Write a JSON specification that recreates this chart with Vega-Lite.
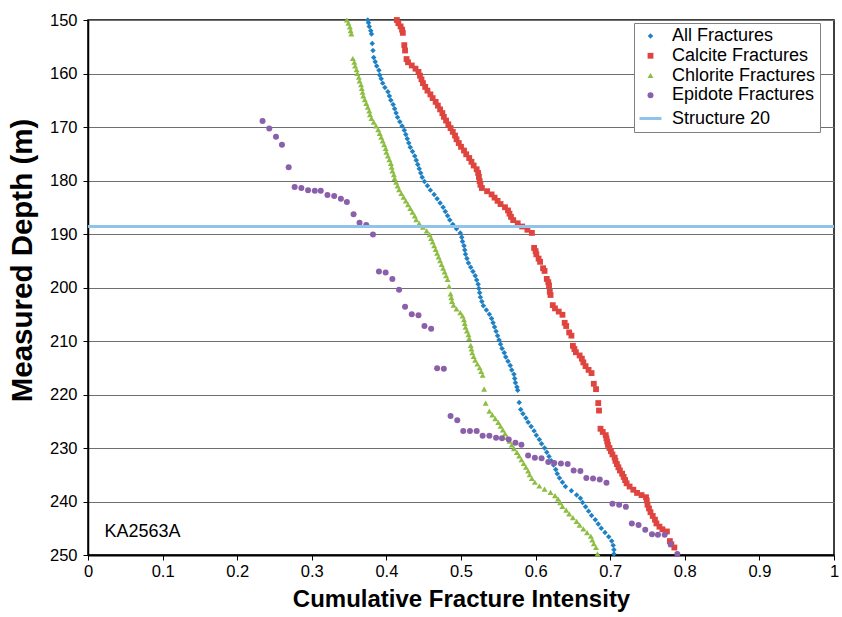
{
  "$schema": "https://vega.github.io/schema/vega-lite/v6.json",
  "width": 746,
  "height": 535,
  "autosize": {"type": "none"},
  "padding": {"left": 88, "top": 20, "right": 8, "bottom": 62},
  "background": "white",
  "config": {
    "font": "Liberation Sans",
    "view": {"stroke": "black", "strokeWidth": 1.5},
    "axis": {"domainColor": "black", "tickColor": "black", "labelColor": "black", "titleColor": "black", "labelFont": "Liberation Sans", "titleFont": "Liberation Sans"},
    "legend": {"orient": "none", "legendX": 546, "legendY": 3, "fillColor": "white", "strokeColor": "#808080", "strokeWidth": 1, "padding": 4, "labelFont": "Liberation Sans", "labelFontSize": 18, "labelColor": "black", "labelOffset": 9, "rowPadding": 1.75, "symbolStrokeWidth": 3}
  },
  "datasets": {
    "fractures": [
      {"s":"A","x":0.375,"d":150.0},{"s":"A","x":0.376,"d":150.5},{"s":"A","x":0.377,"d":151.2},{"s":"A","x":0.379,"d":152.0},{"s":"A","x":0.380,"d":152.6},{"s":"A","x":0.381,"d":154.4},{"s":"A","x":0.382,"d":155.7},{"s":"A","x":0.383,"d":157.0},{"s":"A","x":0.385,"d":157.8},{"s":"A","x":0.387,"d":158.6},{"s":"A","x":0.390,"d":159.4},{"s":"A","x":0.391,"d":160.3},{"s":"A","x":0.393,"d":161.0},{"s":"A","x":0.395,"d":161.8},{"s":"A","x":0.398,"d":162.6},{"s":"A","x":0.402,"d":163.4},{"s":"A","x":0.404,"d":164.2},{"s":"A","x":0.406,"d":165.0},{"s":"A","x":0.409,"d":165.8},{"s":"A","x":0.411,"d":166.6},{"s":"A","x":0.413,"d":167.4},{"s":"A","x":0.415,"d":168.2},{"s":"A","x":0.418,"d":169.0},{"s":"A","x":0.421,"d":169.8},{"s":"A","x":0.424,"d":170.6},{"s":"A","x":0.426,"d":171.4},{"s":"A","x":0.428,"d":172.2},{"s":"A","x":0.430,"d":173.0},{"s":"A","x":0.432,"d":173.8},{"s":"A","x":0.435,"d":174.6},{"s":"A","x":0.438,"d":175.4},{"s":"A","x":0.440,"d":176.2},{"s":"A","x":0.442,"d":177.0},{"s":"A","x":0.444,"d":177.8},{"s":"A","x":0.446,"d":178.6},{"s":"A","x":0.448,"d":179.4},{"s":"A","x":0.451,"d":180.2},{"s":"A","x":0.455,"d":181.0},{"s":"A","x":0.459,"d":181.8},{"s":"A","x":0.464,"d":182.6},{"s":"A","x":0.468,"d":183.4},{"s":"A","x":0.472,"d":184.2},{"s":"A","x":0.476,"d":185.0},{"s":"A","x":0.479,"d":185.8},{"s":"A","x":0.482,"d":186.6},{"s":"A","x":0.485,"d":187.4},{"s":"A","x":0.489,"d":188.2},{"s":"A","x":0.494,"d":189.0},{"s":"A","x":0.499,"d":189.8},{"s":"A","x":0.501,"d":190.6},{"s":"A","x":0.502,"d":191.4},{"s":"A","x":0.504,"d":192.2},{"s":"A","x":0.505,"d":193.0},{"s":"A","x":0.506,"d":193.8},{"s":"A","x":0.508,"d":194.6},{"s":"A","x":0.510,"d":195.4},{"s":"A","x":0.513,"d":196.2},{"s":"A","x":0.516,"d":197.0},{"s":"A","x":0.519,"d":197.8},{"s":"A","x":0.521,"d":198.6},{"s":"A","x":0.523,"d":199.4},{"s":"A","x":0.524,"d":200.2},{"s":"A","x":0.525,"d":201.0},{"s":"A","x":0.526,"d":201.8},{"s":"A","x":0.528,"d":202.6},{"s":"A","x":0.530,"d":203.4},{"s":"A","x":0.534,"d":204.2},{"s":"A","x":0.538,"d":205.0},{"s":"A","x":0.541,"d":205.8},{"s":"A","x":0.543,"d":206.6},{"s":"A","x":0.545,"d":207.4},{"s":"A","x":0.547,"d":208.2},{"s":"A","x":0.549,"d":209.0},{"s":"A","x":0.551,"d":209.8},{"s":"A","x":0.553,"d":210.6},{"s":"A","x":0.555,"d":211.4},{"s":"A","x":0.558,"d":212.2},{"s":"A","x":0.560,"d":213.0},{"s":"A","x":0.563,"d":213.8},{"s":"A","x":0.566,"d":214.6},{"s":"A","x":0.568,"d":215.4},{"s":"A","x":0.571,"d":216.2},{"s":"A","x":0.572,"d":217.0},{"s":"A","x":0.573,"d":217.8},{"s":"A","x":0.575,"d":218.6},{"s":"A","x":0.576,"d":219.2},{"s":"A","x":0.578,"d":221.5},{"s":"A","x":0.580,"d":222.8},{"s":"A","x":0.583,"d":223.6},{"s":"A","x":0.587,"d":224.4},{"s":"A","x":0.590,"d":225.2},{"s":"A","x":0.594,"d":226.0},{"s":"A","x":0.598,"d":226.8},{"s":"A","x":0.601,"d":227.6},{"s":"A","x":0.605,"d":228.4},{"s":"A","x":0.608,"d":229.2},{"s":"A","x":0.612,"d":230.0},{"s":"A","x":0.615,"d":230.8},{"s":"A","x":0.618,"d":231.6},{"s":"A","x":0.621,"d":232.4},{"s":"A","x":0.624,"d":233.2},{"s":"A","x":0.627,"d":234.0},{"s":"A","x":0.629,"d":234.8},{"s":"A","x":0.632,"d":235.6},{"s":"A","x":0.636,"d":236.4},{"s":"A","x":0.640,"d":237.2},{"s":"A","x":0.648,"d":238.0},{"s":"A","x":0.655,"d":238.8},{"s":"A","x":0.660,"d":239.4},{"s":"A","x":0.663,"d":240.2},{"s":"A","x":0.667,"d":241.0},{"s":"A","x":0.671,"d":241.8},{"s":"A","x":0.675,"d":242.6},{"s":"A","x":0.680,"d":243.4},{"s":"A","x":0.684,"d":244.2},{"s":"A","x":0.688,"d":245.0},{"s":"A","x":0.693,"d":245.8},{"s":"A","x":0.698,"d":246.6},{"s":"A","x":0.702,"d":247.4},{"s":"A","x":0.704,"d":248.2},{"s":"A","x":0.705,"d":249.0},{"s":"A","x":0.705,"d":249.8},
      {"s":"C","x":0.414,"d":150.0},{"s":"C","x":0.416,"d":150.6},{"s":"C","x":0.419,"d":151.2},{"s":"C","x":0.421,"d":151.8},{"s":"C","x":0.422,"d":152.4},{"s":"C","x":0.424,"d":154.7},{"s":"C","x":0.425,"d":155.7},{"s":"C","x":0.427,"d":157.3},{"s":"C","x":0.429,"d":157.9},{"s":"C","x":0.434,"d":158.5},{"s":"C","x":0.439,"d":159.1},{"s":"C","x":0.443,"d":159.7},{"s":"C","x":0.445,"d":160.4},{"s":"C","x":0.447,"d":161.1},{"s":"C","x":0.449,"d":161.8},{"s":"C","x":0.452,"d":162.5},{"s":"C","x":0.455,"d":163.2},{"s":"C","x":0.459,"d":163.9},{"s":"C","x":0.462,"d":164.6},{"s":"C","x":0.466,"d":165.3},{"s":"C","x":0.469,"d":166.0},{"s":"C","x":0.472,"d":166.7},{"s":"C","x":0.475,"d":167.4},{"s":"C","x":0.477,"d":168.1},{"s":"C","x":0.480,"d":168.8},{"s":"C","x":0.483,"d":169.5},{"s":"C","x":0.486,"d":170.2},{"s":"C","x":0.489,"d":170.9},{"s":"C","x":0.492,"d":171.6},{"s":"C","x":0.494,"d":172.3},{"s":"C","x":0.497,"d":173.0},{"s":"C","x":0.500,"d":173.7},{"s":"C","x":0.504,"d":174.4},{"s":"C","x":0.507,"d":175.1},{"s":"C","x":0.511,"d":175.8},{"s":"C","x":0.514,"d":176.5},{"s":"C","x":0.517,"d":177.2},{"s":"C","x":0.521,"d":177.9},{"s":"C","x":0.523,"d":178.6},{"s":"C","x":0.524,"d":179.3},{"s":"C","x":0.525,"d":180.1},{"s":"C","x":0.526,"d":180.8},{"s":"C","x":0.528,"d":181.4},{"s":"C","x":0.535,"d":182.0},{"s":"C","x":0.541,"d":182.6},{"s":"C","x":0.545,"d":183.2},{"s":"C","x":0.549,"d":183.8},{"s":"C","x":0.553,"d":184.4},{"s":"C","x":0.559,"d":185.0},{"s":"C","x":0.563,"d":185.6},{"s":"C","x":0.565,"d":186.2},{"s":"C","x":0.567,"d":186.8},{"s":"C","x":0.570,"d":187.4},{"s":"C","x":0.576,"d":188.0},{"s":"C","x":0.582,"d":188.6},{"s":"C","x":0.589,"d":189.2},{"s":"C","x":0.595,"d":189.8},{"s":"C","x":0.598,"d":192.6},{"s":"C","x":0.600,"d":193.2},{"s":"C","x":0.601,"d":193.8},{"s":"C","x":0.604,"d":194.6},{"s":"C","x":0.606,"d":195.2},{"s":"C","x":0.610,"d":196.4},{"s":"C","x":0.612,"d":196.9},{"s":"C","x":0.615,"d":198.4},{"s":"C","x":0.617,"d":199.0},{"s":"C","x":0.618,"d":199.6},{"s":"C","x":0.619,"d":200.8},{"s":"C","x":0.620,"d":201.4},{"s":"C","x":0.623,"d":203.3},{"s":"C","x":0.626,"d":203.9},{"s":"C","x":0.631,"d":204.5},{"s":"C","x":0.636,"d":205.1},{"s":"C","x":0.639,"d":206.6},{"s":"C","x":0.641,"d":207.2},{"s":"C","x":0.645,"d":208.4},{"s":"C","x":0.648,"d":209.0},{"s":"C","x":0.650,"d":210.9},{"s":"C","x":0.652,"d":211.5},{"s":"C","x":0.654,"d":212.1},{"s":"C","x":0.659,"d":212.7},{"s":"C","x":0.662,"d":213.3},{"s":"C","x":0.664,"d":214.0},{"s":"C","x":0.667,"d":214.7},{"s":"C","x":0.671,"d":215.4},{"s":"C","x":0.675,"d":216.0},{"s":"C","x":0.678,"d":218.0},{"s":"C","x":0.681,"d":219.0},{"s":"C","x":0.684,"d":221.6},{"s":"C","x":0.685,"d":223.0},{"s":"C","x":0.687,"d":226.4},{"s":"C","x":0.690,"d":227.0},{"s":"C","x":0.694,"d":227.6},{"s":"C","x":0.695,"d":228.2},{"s":"C","x":0.696,"d":228.8},{"s":"C","x":0.697,"d":229.4},{"s":"C","x":0.699,"d":230.0},{"s":"C","x":0.701,"d":230.6},{"s":"C","x":0.703,"d":231.2},{"s":"C","x":0.706,"d":231.8},{"s":"C","x":0.707,"d":232.4},{"s":"C","x":0.709,"d":233.0},{"s":"C","x":0.711,"d":233.6},{"s":"C","x":0.713,"d":234.2},{"s":"C","x":0.716,"d":234.8},{"s":"C","x":0.718,"d":235.4},{"s":"C","x":0.720,"d":236.0},{"s":"C","x":0.722,"d":236.6},{"s":"C","x":0.726,"d":237.2},{"s":"C","x":0.731,"d":237.8},{"s":"C","x":0.736,"d":238.4},{"s":"C","x":0.742,"d":238.8},{"s":"C","x":0.748,"d":239.2},{"s":"C","x":0.749,"d":239.8},{"s":"C","x":0.750,"d":240.6},{"s":"C","x":0.752,"d":241.3},{"s":"C","x":0.754,"d":242.0},{"s":"C","x":0.757,"d":242.7},{"s":"C","x":0.760,"d":243.4},{"s":"C","x":0.762,"d":244.1},{"s":"C","x":0.766,"d":244.7},{"s":"C","x":0.770,"d":245.2},{"s":"C","x":0.776,"d":245.6},{"s":"C","x":0.780,"d":247.4},{"s":"C","x":0.782,"d":248.0},{"s":"C","x":0.786,"d":248.6},
      {"s":"H","x":0.347,"d":150.0},{"s":"H","x":0.349,"d":150.6},{"s":"H","x":0.351,"d":151.3},{"s":"H","x":0.352,"d":152.0},{"s":"H","x":0.353,"d":152.6},{"s":"H","x":0.355,"d":157.2},{"s":"H","x":0.357,"d":157.9},{"s":"H","x":0.358,"d":158.6},{"s":"H","x":0.360,"d":159.3},{"s":"H","x":0.361,"d":160.0},{"s":"H","x":0.363,"d":160.7},{"s":"H","x":0.364,"d":161.4},{"s":"H","x":0.366,"d":162.1},{"s":"H","x":0.367,"d":162.8},{"s":"H","x":0.368,"d":163.5},{"s":"H","x":0.369,"d":164.2},{"s":"H","x":0.371,"d":164.9},{"s":"H","x":0.373,"d":165.6},{"s":"H","x":0.375,"d":166.3},{"s":"H","x":0.377,"d":167.0},{"s":"H","x":0.378,"d":167.7},{"s":"H","x":0.380,"d":168.4},{"s":"H","x":0.383,"d":169.1},{"s":"H","x":0.386,"d":169.8},{"s":"H","x":0.389,"d":170.5},{"s":"H","x":0.391,"d":171.2},{"s":"H","x":0.393,"d":171.9},{"s":"H","x":0.395,"d":172.6},{"s":"H","x":0.397,"d":173.3},{"s":"H","x":0.399,"d":174.0},{"s":"H","x":0.400,"d":174.7},{"s":"H","x":0.402,"d":175.4},{"s":"H","x":0.404,"d":176.1},{"s":"H","x":0.406,"d":176.8},{"s":"H","x":0.407,"d":177.5},{"s":"H","x":0.408,"d":178.2},{"s":"H","x":0.410,"d":178.9},{"s":"H","x":0.411,"d":179.6},{"s":"H","x":0.413,"d":180.3},{"s":"H","x":0.415,"d":181.0},{"s":"H","x":0.417,"d":181.7},{"s":"H","x":0.420,"d":182.4},{"s":"H","x":0.423,"d":183.1},{"s":"H","x":0.426,"d":183.8},{"s":"H","x":0.429,"d":184.5},{"s":"H","x":0.432,"d":185.2},{"s":"H","x":0.435,"d":185.9},{"s":"H","x":0.438,"d":186.6},{"s":"H","x":0.440,"d":187.3},{"s":"H","x":0.444,"d":188.0},{"s":"H","x":0.449,"d":188.7},{"s":"H","x":0.454,"d":189.4},{"s":"H","x":0.458,"d":190.1},{"s":"H","x":0.460,"d":190.8},{"s":"H","x":0.462,"d":191.5},{"s":"H","x":0.464,"d":192.2},{"s":"H","x":0.466,"d":192.9},{"s":"H","x":0.468,"d":193.6},{"s":"H","x":0.470,"d":194.3},{"s":"H","x":0.472,"d":195.0},{"s":"H","x":0.474,"d":195.7},{"s":"H","x":0.476,"d":196.4},{"s":"H","x":0.478,"d":197.1},{"s":"H","x":0.480,"d":197.8},{"s":"H","x":0.482,"d":198.5},{"s":"H","x":0.484,"d":199.8},{"s":"H","x":0.486,"d":201.2},{"s":"H","x":0.487,"d":201.9},{"s":"H","x":0.488,"d":202.6},{"s":"H","x":0.490,"d":203.3},{"s":"H","x":0.494,"d":204.0},{"s":"H","x":0.499,"d":204.7},{"s":"H","x":0.502,"d":205.3},{"s":"H","x":0.504,"d":206.0},{"s":"H","x":0.505,"d":206.7},{"s":"H","x":0.506,"d":207.4},{"s":"H","x":0.508,"d":208.1},{"s":"H","x":0.510,"d":208.8},{"s":"H","x":0.511,"d":209.5},{"s":"H","x":0.513,"d":210.8},{"s":"H","x":0.514,"d":211.5},{"s":"H","x":0.515,"d":212.2},{"s":"H","x":0.517,"d":212.9},{"s":"H","x":0.519,"d":213.6},{"s":"H","x":0.522,"d":214.3},{"s":"H","x":0.525,"d":215.0},{"s":"H","x":0.527,"d":215.7},{"s":"H","x":0.529,"d":216.4},{"s":"H","x":0.531,"d":219.0},{"s":"H","x":0.533,"d":221.6},{"s":"H","x":0.538,"d":223.1},{"s":"H","x":0.542,"d":223.8},{"s":"H","x":0.546,"d":224.5},{"s":"H","x":0.550,"d":225.2},{"s":"H","x":0.553,"d":225.9},{"s":"H","x":0.556,"d":226.6},{"s":"H","x":0.559,"d":227.3},{"s":"H","x":0.562,"d":228.0},{"s":"H","x":0.565,"d":228.7},{"s":"H","x":0.568,"d":229.4},{"s":"H","x":0.571,"d":230.1},{"s":"H","x":0.575,"d":230.8},{"s":"H","x":0.578,"d":231.5},{"s":"H","x":0.581,"d":232.2},{"s":"H","x":0.584,"d":232.9},{"s":"H","x":0.587,"d":233.6},{"s":"H","x":0.590,"d":234.3},{"s":"H","x":0.592,"d":235.0},{"s":"H","x":0.595,"d":235.7},{"s":"H","x":0.599,"d":236.4},{"s":"H","x":0.605,"d":237.1},{"s":"H","x":0.612,"d":237.7},{"s":"H","x":0.620,"d":238.3},{"s":"H","x":0.626,"d":238.9},{"s":"H","x":0.630,"d":239.5},{"s":"H","x":0.633,"d":240.2},{"s":"H","x":0.636,"d":240.9},{"s":"H","x":0.641,"d":241.6},{"s":"H","x":0.645,"d":242.3},{"s":"H","x":0.650,"d":243.0},{"s":"H","x":0.655,"d":243.7},{"s":"H","x":0.659,"d":244.4},{"s":"H","x":0.664,"d":245.1},{"s":"H","x":0.669,"d":245.8},{"s":"H","x":0.674,"d":246.5},{"s":"H","x":0.676,"d":247.2},{"s":"H","x":0.678,"d":247.9},{"s":"H","x":0.681,"d":248.6},{"s":"H","x":0.683,"d":249.8},
      {"s":"E","x":0.234,"d":168.9},{"s":"E","x":0.243,"d":170.3},{"s":"E","x":0.252,"d":171.8},{"s":"E","x":0.260,"d":173.3},{"s":"E","x":0.269,"d":177.5},{"s":"E","x":0.277,"d":181.2},{"s":"E","x":0.286,"d":181.4},{"s":"E","x":0.295,"d":181.8},{"s":"E","x":0.304,"d":181.9},{"s":"E","x":0.312,"d":181.9},{"s":"E","x":0.321,"d":182.7},{"s":"E","x":0.330,"d":182.9},{"s":"E","x":0.339,"d":183.4},{"s":"E","x":0.347,"d":184.0},{"s":"E","x":0.356,"d":186.3},{"s":"E","x":0.364,"d":187.9},{"s":"E","x":0.373,"d":188.3},{"s":"E","x":0.382,"d":190.1},{"s":"E","x":0.390,"d":197.0},{"s":"E","x":0.399,"d":197.2},{"s":"E","x":0.408,"d":198.4},{"s":"E","x":0.417,"d":200.4},{"s":"E","x":0.425,"d":203.6},{"s":"E","x":0.434,"d":205.0},{"s":"E","x":0.443,"d":205.2},{"s":"E","x":0.451,"d":207.2},{"s":"E","x":0.460,"d":207.7},{"s":"E","x":0.468,"d":215.1},{"s":"E","x":0.477,"d":215.2},{"s":"E","x":0.486,"d":224.0},{"s":"E","x":0.495,"d":224.8},{"s":"E","x":0.503,"d":226.8},{"s":"E","x":0.512,"d":226.8},{"s":"E","x":0.521,"d":226.8},{"s":"E","x":0.529,"d":227.7},{"s":"E","x":0.538,"d":227.7},{"s":"E","x":0.547,"d":228.1},{"s":"E","x":0.555,"d":228.2},{"s":"E","x":0.564,"d":228.4},{"s":"E","x":0.573,"d":229.0},{"s":"E","x":0.581,"d":229.4},{"s":"E","x":0.590,"d":231.4},{"s":"E","x":0.599,"d":231.8},{"s":"E","x":0.608,"d":231.9},{"s":"E","x":0.617,"d":232.6},{"s":"E","x":0.625,"d":232.8},{"s":"E","x":0.634,"d":232.9},{"s":"E","x":0.643,"d":233.0},{"s":"E","x":0.651,"d":234.2},{"s":"E","x":0.660,"d":234.3},{"s":"E","x":0.668,"d":235.6},{"s":"E","x":0.677,"d":235.7},{"s":"E","x":0.686,"d":235.9},{"s":"E","x":0.695,"d":236.5},{"s":"E","x":0.703,"d":240.4},{"s":"E","x":0.712,"d":240.6},{"s":"E","x":0.721,"d":241.0},{"s":"E","x":0.729,"d":244.1},{"s":"E","x":0.738,"d":244.4},{"s":"E","x":0.747,"d":245.3},{"s":"E","x":0.756,"d":246.1},{"s":"E","x":0.764,"d":246.2},{"s":"E","x":0.773,"d":246.2},{"s":"E","x":0.781,"d":248.0},{"s":"E","x":0.790,"d":249.8}
    ],
    "structure": [{"d": 188.6}],
    "notes": [{"x": 0.022, "d": 246.7, "t": "KA2563A"}]
  },
  "layer": [
    {
      "data": {"name": "fractures"},
      "mark": {"type": "point", "filled": true, "opacity": 1},
      "encoding": {
        "x": {"field": "x", "type": "quantitative", "title": "Cumulative Fracture Intensity",
          "scale": {"domain": [0, 1], "nice": false, "zero": false},
          "axis": {"values": [0, 0.1, 0.2, 0.3, 0.4, 0.5, 0.6, 0.7, 0.8, 0.9, 1], "format": "~g", "grid": false, "tickSize": 5, "labelFontSize": 16.5, "labelPadding": 3, "labelFlush": false, "titleFontSize": 24, "titleFontWeight": "bold", "titlePadding": 8, "domainWidth": 2}},
        "y": {"field": "d", "type": "quantitative", "title": "Measured Depth (m)",
          "scale": {"domain": [150, 250], "reverse": true, "nice": false, "zero": false},
          "axis": {"values": [150, 160, 170, 180, 190, 200, 210, 220, 230, 240, 250], "grid": true, "gridColor": "#6e6e6e", "gridWidth": 1, "tickSize": 5, "labelFontSize": 16.5, "labelPadding": 6, "titleFontSize": 29.5, "titleFontWeight": "bold", "titlePadding": 12, "titleY": 240, "domainWidth": 1.5}},
        "color": {"field": "s", "type": "nominal",
          "scale": {"domain": ["A", "C", "H", "E", "S"], "range": ["#1f80c4", "#e0443e", "#8dbe43", "#8a60aa", "#8fc3ea"]},
          "legend": {"title": null, "labelExpr": "datum.label=='A'?'All Fractures':datum.label=='C'?'Calcite Fractures':datum.label=='H'?'Chlorite Fractures':datum.label=='E'?'Epidote Fractures':'Structure 20'"}},
        "shape": {"field": "s", "type": "nominal",
          "scale": {"domain": ["A", "C", "H", "E", "S"], "range": ["diamond", "square", "triangle-up", "circle", "stroke"]},
          "legend": {"title": null, "labelExpr": "datum.label=='A'?'All Fractures':datum.label=='C'?'Calcite Fractures':datum.label=='H'?'Chlorite Fractures':datum.label=='E'?'Epidote Fractures':'Structure 20'"}},
        "size": {"field": "s", "type": "nominal",
          "scale": {"type": "ordinal", "domain": ["A", "C", "H", "E", "S"], "range": [30, 34, 36, 36, 484]},
          "legend": {"title": null, "labelExpr": "datum.label=='A'?'All Fractures':datum.label=='C'?'Calcite Fractures':datum.label=='H'?'Chlorite Fractures':datum.label=='E'?'Epidote Fractures':'Structure 20'"}},
        "stroke": {"field": "s", "type": "nominal",
          "scale": {"domain": ["A", "C", "H", "E", "S"], "range": ["transparent", "transparent", "transparent", "transparent", "#8fc3ea"]},
          "legend": {"title": null, "labelExpr": "datum.label=='A'?'All Fractures':datum.label=='C'?'Calcite Fractures':datum.label=='H'?'Chlorite Fractures':datum.label=='E'?'Epidote Fractures':'Structure 20'"}}
      }
    },
    {
      "data": {"name": "structure"},
      "mark": {"type": "rule", "color": "#8fc3ea", "strokeWidth": 3},
      "encoding": {"y": {"field": "d", "type": "quantitative", "title": "Measured Depth (m)"}}
    },
    {
      "data": {"name": "notes"},
      "mark": {"type": "text", "align": "left", "baseline": "alphabetic", "fontSize": 18, "font": "Liberation Sans", "color": "black"},
      "encoding": {
        "x": {"field": "x", "type": "quantitative", "title": "Cumulative Fracture Intensity"},
        "y": {"field": "d", "type": "quantitative", "title": "Measured Depth (m)"},
        "text": {"field": "t"}
      }
    }
  ]
}
